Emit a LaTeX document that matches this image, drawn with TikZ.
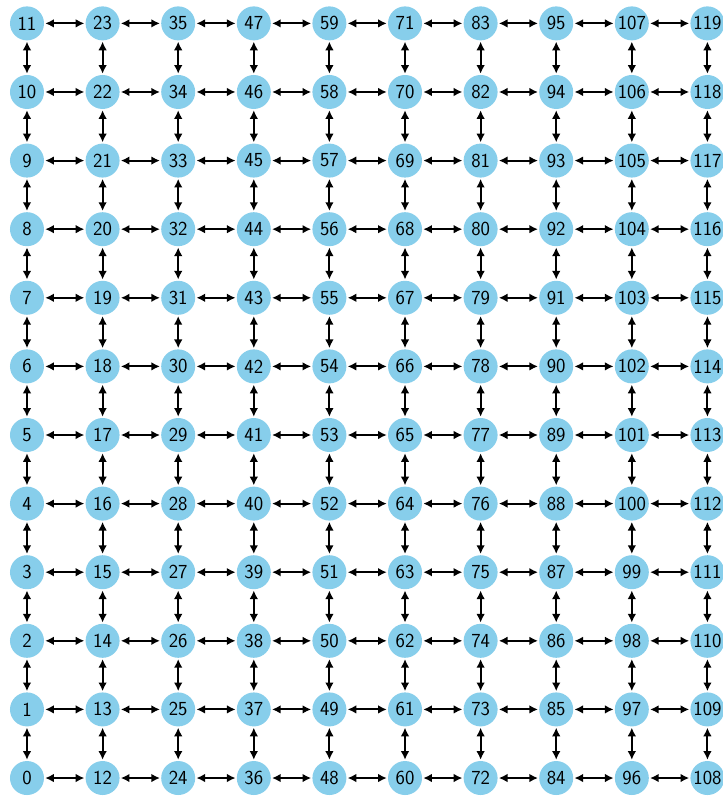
\documentclass[tikz,border=0pt]{standalone}
\usepackage{tikz}
\usepackage{xcolor}
\usetikzlibrary{arrows.meta}
\definecolor{skyblue}{RGB}{135,206,235}

\begin{document}
\begin{tikzpicture}[x=2.268cm, y=2.058cm,
  vert/.style={circle, fill=skyblue, minimum size=1.02cm, inner sep=0pt,
    font=\sffamily\fontsize{17}{20}\selectfont},
  link/.style={{Latex[length=2.6mm,width=2.6mm]}-{Latex[length=2.6mm,width=2.6mm]},
    line width=1.8pt, shorten <=0.3mm, shorten >=0.3mm}]
\useasboundingbox (-0.357,-0.262) rectangle (9.193,11.341);
% Draw the grid of vertices
\foreach \c in {0,...,9}
  \foreach \r in {0,...,11} {
    \pgfmathtruncatemacro{\k}{12*\c+\r}
    \node[vert] (n\k) at (\c,\r) {\k};
  }
% Vertical links
\foreach \c in {0,...,9}
  \foreach \r in {0,...,10} {
    \pgfmathtruncatemacro{\k}{12*\c+\r}
    \pgfmathtruncatemacro{\u}{\k+1}
    \draw[link] (n\k) -- (n\u);
  }
% Horizontal links
\foreach \c in {0,...,8}
  \foreach \r in {0,...,11} {
    \pgfmathtruncatemacro{\k}{12*\c+\r}
    \pgfmathtruncatemacro{\v}{\k+12}
    \draw[link] (n\k) -- (n\v);
  }
\end{tikzpicture}
\end{document}
